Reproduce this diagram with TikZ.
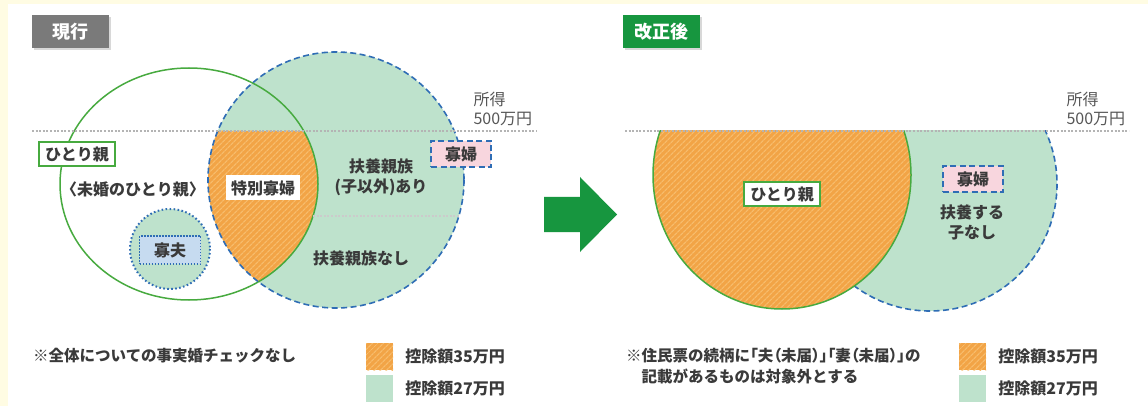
\documentclass[tikz,border=0pt]{standalone}
\usepackage{fontspec}
\setmainfont{Noto Sans CJK JP}
\usetikzlibrary{positioning,patterns.meta,shadows}

\definecolor{bgyellow}{HTML}{FFFCE3}
\definecolor{lightg}{HTML}{BEE2CC}
\definecolor{org}{HTML}{F2A446}
\definecolor{orgline}{HTML}{F7BC6C}
\definecolor{linegreen}{HTML}{47AA3F}
\definecolor{taggreen}{HTML}{17963F}
\definecolor{taggray}{HTML}{7A7A7A}
\definecolor{dashblue}{HTML}{2F6DB5}
\definecolor{pinkfill}{HTML}{F8D6DE}
\definecolor{bluefill}{HTML}{C6DBF0}
\definecolor{textgray}{HTML}{3A3A3A}
\definecolor{dotgray}{HTML}{B4B4B4}

\begin{document}
\begin{tikzpicture}[x=1pt,y=-1pt
		,every node/.append style={text=textgray, font=\fontsize{16}{20}\selectfont\bfseries}
		,tag/.style={text=white, font=\fontsize{18}{20}\selectfont\bfseries, minimum width=77pt, minimum height=33pt, drop shadow={shadow xshift=2pt, shadow yshift=-2pt, opacity=.3}}
		,hatch/.style={fill=org, postaction={pattern={Lines[angle=45,distance=4pt,line width=1.3pt]}, pattern color=orgline}}
		,bluedash/.style={draw=dashblue, line width=1.6pt, dash pattern=on 6pt off 3.5pt}
		,bluedot/.style={draw=dashblue, line width=2pt, dash pattern=on 1.6pt off 2.4pt}
		,greenline/.style={draw=linegreen, line width=1.5pt}
		,grayrule/.style={draw=dotgray, line width=1.3pt, dash pattern=on 2pt off 1.6pt}
		,oyabox/.style={draw=linegreen, line width=2pt, fill=white, minimum width=76pt, minimum height=24pt, inner sep=0pt}
		,pinkbox/.style={bluedash, line width=1.8pt, fill=pinkfill, minimum width=60pt, minimum height=26pt, inner sep=0pt}
		,bluebox/.style={draw=dashblue, line width=1.2pt, dash pattern=on 1.5pt off 1.5pt, fill=bluefill, minimum width=61pt, minimum height=28pt, inner sep=0pt}
		,swatchbox/.style={minimum size=27pt, inner sep=0pt}
		,income/.style={font=\fontsize{16}{19}\selectfont, text=textgray!85, align=left, anchor=west}
		,note/.style={font=\fontsize{15.5}{21}\selectfont\bfseries, anchor=west, align=left, inner sep=0pt}
	]
	% backdrop
	\useasboundingbox (0,0) rectangle (1148,406);
	\fill[bgyellow] (0,0) rectangle (1148,406);
	\fill[white] (8,4) rectangle (1148,406);

	% current system
	\fill[lightg] (336,180) circle (128);
	\begin{scope}
		\clip (336,180) circle (128);
		\clip (189,184) ellipse (129 and 116);
		\fill[hatch] (150,131) rectangle (480,320);
	\end{scope}
	\draw[greenline] (189,184) ellipse (129 and 116);
	\draw[bluedash] (336,180) circle (128);
	\draw[grayrule] (32,131) -- (537,131);
	\draw[grayrule, draw=dotgray!70] (313,216) -- (459,216);
	\draw[bluedot, fill=lightg] (170,249) circle (40);

	\node[tag, fill=taggray] (now) at (70,31.5) {現行};
	\node[income] (incomeL) at (470,108.5) {所得\\500万円};
	\node[oyabox] (oyaL) at (77,154.5) {ひとり親};
	\node (mikon) at (133,189) {〈未婚のひとり親〉};
	\node[fill=white, minimum width=74pt, minimum height=25pt, inner sep=0pt] (tokubetsu) at (263,188) {特別寡婦};
	\node[align=center] (fuyoari) at (381,177) {扶養親族\\(子以外)あり};
	\node (fuyonashi) at (361,258) {扶養親族なし};
	\node[pinkbox] (kafuL) at (461,154) {寡婦};
	\node[bluebox] (kafu) at (170,250) {寡夫};

	% arrow
	\fill[taggreen] (544,197) -- (580,197) -- (580,177) -- (617,214.5) -- (580,252) -- (580,232) -- (544,232) -- cycle;

	% after the revision
	\begin{scope}
		\clip (600,131) rectangle (1148,406);
		\fill[lightg] (930,184) circle (127);
		\draw[bluedash] (930,184) circle (127);
		\fill[hatch] (782,175) ellipse (129 and 134);
		\draw[greenline] (782,175) ellipse (129 and 134);
	\end{scope}
	\draw[grayrule] (625,131) -- (1129,131);

	\node[tag, fill=taggreen] (after) at (661,31.5) {改正後};
	\node[income] (incomeR) at (1063,108.5) {所得\\500万円};
	\node[oyabox] (oyaR) at (782,194) {ひとり親};
	\node[pinkbox] (kafuR) at (973,179) {寡婦};
	\node[align=center] (konashi) at (972,222) {扶養する\\子なし};

	% legends
	\node[note] (noteL) at (33,356) {※全体についての事実婚チェックなし};
	\node[swatchbox, hatch] (orgL) at (379.5,356.5) {};
	\node[swatchbox, fill=lightg] (grnL) at (379.5,388.5) {};
	\node[right=12pt of orgL, inner sep=0pt] (amtOL) {控除額35万円};
	\node[right=12pt of grnL, inner sep=0pt] (amtGL) {控除額27万円};

	\node[note] (noteR) at (626,366) {※住民票の続柄に{\addfontfeatures{RawFeature=+palt}「夫（未届）」「妻（未届）」}の\\\hspace{1em}記載があるものは対象外とする};
	\node[swatchbox, hatch] (orgR) at (972.5,356.5) {};
	\node[swatchbox, fill=lightg] (grnR) at (972.5,388.5) {};
	\node[right=12pt of orgR, inner sep=0pt] (amtOR) {控除額35万円};
	\node[right=12pt of grnR, inner sep=0pt] (amtGR) {控除額27万円};
\end{tikzpicture}
\end{document}
